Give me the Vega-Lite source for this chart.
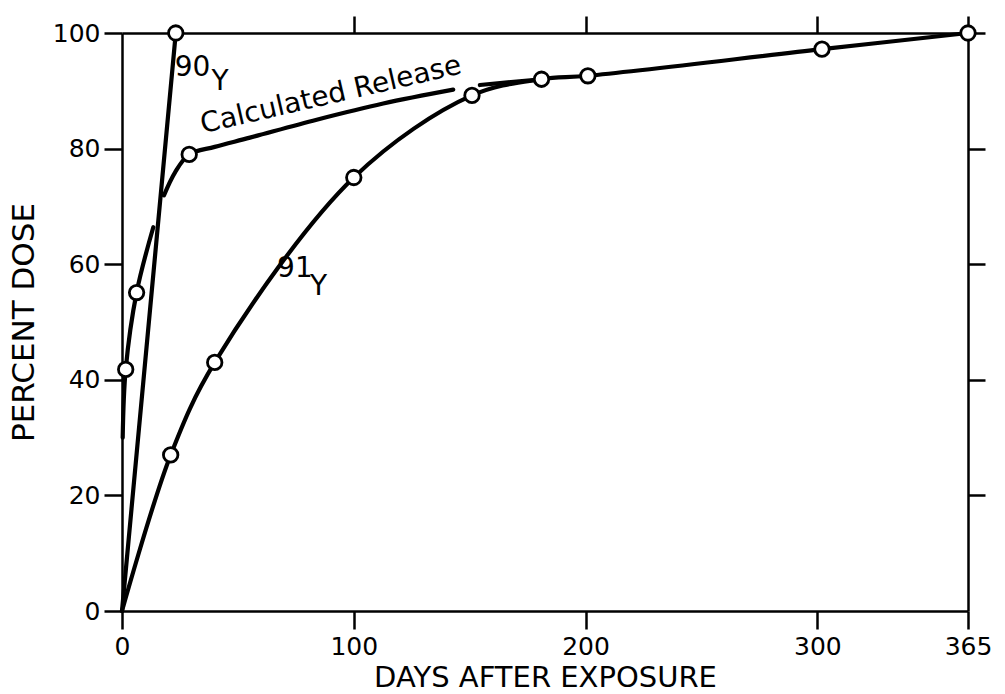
{
  "$schema": "https://vega.github.io/schema/vega-lite/v6.json",
  "width": 846,
  "height": 578,
  "autosize": {"type": "none"},
  "padding": {"left": 122, "top": 33, "right": 37, "bottom": 83},
  "background": "white",
  "config": {
    "view": {"stroke": null},
    "axis": {
      "grid": false,
      "domainColor": "black",
      "domainWidth": 2.5,
      "tickColor": "black",
      "tickWidth": 2.5,
      "labelColor": "black",
      "titleColor": "black",
      "labelFont": "DejaVu Sans",
      "titleFont": "DejaVu Sans",
      "labelFontSize": 25,
      "titleFontSize": 29,
      "titleFontWeight": "normal"
    }
  },
  "datasets": {
    "curves": [
      {"seg": "90Y", "day": 0, "pct": 0, "pt": 0},
      {"seg": "90Y", "day": 23.2, "pct": 100, "pt": 1},
      {"seg": "91Y", "day": 0, "pct": 0, "pt": 0},
      {"seg": "91Y", "day": 21, "pct": 27, "pt": 1},
      {"seg": "91Y", "day": 40, "pct": 43, "pt": 1},
      {"seg": "91Y", "day": 100, "pct": 75, "pt": 1},
      {"seg": "91Y", "day": 151, "pct": 89.2, "pt": 1},
      {"seg": "91Y", "day": 181, "pct": 92, "pt": 1},
      {"seg": "91Y", "day": 201, "pct": 92.6, "pt": 1},
      {"seg": "91Y", "day": 302, "pct": 97.2, "pt": 1},
      {"seg": "91Y", "day": 365, "pct": 100, "pt": 1},
      {"seg": "calc1", "day": 0.3, "pct": 30, "pt": 0},
      {"seg": "calc1", "day": 1.6, "pct": 41.8, "pt": 1},
      {"seg": "calc1", "day": 6.3, "pct": 55.1, "pt": 1},
      {"seg": "calc1", "day": 13.5, "pct": 66.4, "pt": 0},
      {"seg": "calc2", "day": 18.1, "pct": 71.9, "pt": 0},
      {"seg": "calc2", "day": 22.9, "pct": 75.9, "pt": 0},
      {"seg": "calc2", "day": 29, "pct": 79, "pt": 1},
      {"seg": "calc2", "day": 40, "pct": 80.3, "pt": 0},
      {"seg": "calc2", "day": 55.2, "pct": 81.9, "pt": 0},
      {"seg": "calc2", "day": 84, "pct": 85, "pt": 0},
      {"seg": "calc2", "day": 112.7, "pct": 87.8, "pt": 0},
      {"seg": "calc2", "day": 142.9, "pct": 90.2, "pt": 0},
      {"seg": "calc3", "day": 154.4, "pct": 91, "pt": 0},
      {"seg": "calc3", "day": 181, "pct": 92, "pt": 0}
    ],
    "labels": [
      {"text": "90", "day": 30.4, "pct": 94.0},
      {"text": "Y", "day": 42.3, "pct": 91.5},
      {"text": "91", "day": 74.6, "pct": 59.2},
      {"text": "Y", "day": 84.8, "pct": 56.0}
    ],
    "curveLabel": [
      {"text": "Calculated Release", "day": 90.2, "pct": 89.2}
    ]
  },
  "resolve": {"axis": {"x": "independent", "y": "independent"}},
  "layer": [
    {
      "data": {"name": "curves"},
      "mark": {"type": "line", "stroke": "black", "strokeWidth": 4.2, "interpolate": "catmull-rom", "strokeCap": "round"},
      "encoding": {
        "x": {
          "field": "day", "type": "quantitative",
          "scale": {"domain": [0, 365], "nice": false, "zero": false},
          "axis": {
            "orient": "bottom",
            "values": [0, 100, 200, 300, 365],
            "tickSize": 18,
            "labelPadding": 5,
            "labelFlush": false,
            "labelOverlap": false,
            "title": "DAYS AFTER EXPOSURE",
            "titlePadding": 4
          }
        },
        "y": {
          "field": "pct", "type": "quantitative",
          "scale": {"domain": [0, 100], "nice": false},
          "axis": {
            "orient": "left",
            "values": [0, 20, 40, 60, 80, 100],
            "tickSize": 18,
            "labelPadding": 4,
            "labelFlush": false,
            "labelOverlap": false,
            "title": "PERCENT DOSE",
            "titleFontSize": 31,
            "titlePadding": 12
          }
        },
        "detail": {"field": "seg"}
      }
    },
    {
      "data": {"name": "curves"},
      "transform": [{"filter": "datum.pt == 1"}],
      "mark": {"type": "point", "shape": "circle", "filled": false, "fill": "white", "fillOpacity": 1, "stroke": "black", "strokeWidth": 2.8, "size": 210, "opacity": 1},
      "encoding": {
        "x": {
          "field": "day", "type": "quantitative",
          "scale": {"domain": [0, 365], "nice": false, "zero": false},
          "axis": {"orient": "top", "values": [100, 200, 300, 365], "tickSize": 17, "labels": false, "title": null}
        },
        "y": {
          "field": "pct", "type": "quantitative",
          "scale": {"domain": [0, 100], "nice": false},
          "axis": {"orient": "right", "values": [20, 40, 60, 80, 100], "tickSize": 17, "labels": false, "title": null}
        }
      }
    },
    {
      "data": {"name": "labels"},
      "mark": {"type": "text", "font": "DejaVu Sans", "fontSize": 28, "color": "black", "align": "center", "baseline": "middle"},
      "encoding": {
        "x": {"field": "day", "type": "quantitative", "axis": null},
        "y": {"field": "pct", "type": "quantitative", "axis": null},
        "text": {"field": "text"}
      }
    },
    {
      "data": {"name": "curveLabel"},
      "mark": {"type": "text", "font": "DejaVu Sans", "fontSize": 28, "color": "black", "align": "center", "baseline": "middle", "angle": -13},
      "encoding": {
        "x": {"field": "day", "type": "quantitative", "axis": null},
        "y": {"field": "pct", "type": "quantitative", "axis": null},
        "text": {"field": "text"}
      }
    }
  ]
}
